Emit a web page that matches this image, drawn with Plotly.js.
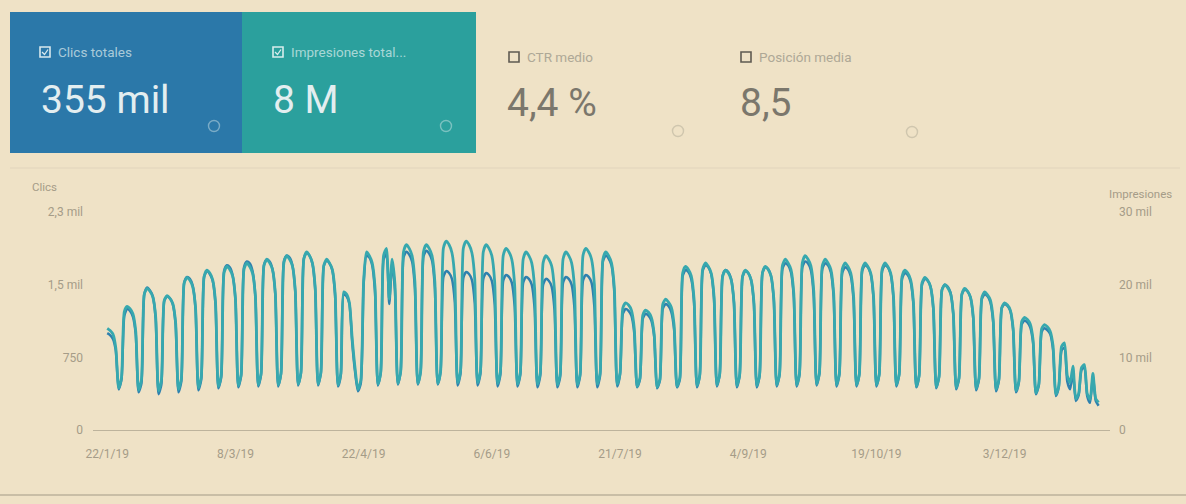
<!DOCTYPE html>
<html>
<head>
<meta charset="utf-8">
<script src="https://cdn.plot.ly/plotly-3.0.1.min.js"></script>
<style>
  html, body { margin: 0; padding: 0; background: #efe2c6; }
  #chart { width: 1186px; height: 504px; }
</style>
</head>
<body>
<div id="chart"></div>
<script>
// ---------- DATA ----------
const startDate = '2019-01-22';

// Daily clicks (first row Tue–Sun, then Mon–Sun weeks)
const clicks = [
  1000, 980, 940, 820, 420, 520,
  1180, 1250, 1230, 1170, 990, 390, 480,
  1400, 1470, 1440, 1380, 1150, 370, 470,
  1330, 1380, 1360, 1300, 1090, 390, 500,
  1520, 1580, 1560, 1490, 1250, 410, 520,
  1580, 1640, 1610, 1540, 1300, 430, 540,
  1640, 1700, 1680, 1600, 1350, 440, 560,
  1680, 1740, 1720, 1640, 1380, 450, 570,
  1700, 1760, 1740, 1660, 1400, 450, 580,
  1740, 1800, 1780, 1700, 1430, 460, 590,
  1770, 1830, 1800, 1720, 1450, 460, 590,
  1690, 1750, 1720, 1650, 1380, 450, 570,
  1400, 1380, 1300, 900, 600, 400, 480,
  1500, 1800, 1780, 1700, 1420, 460, 590,
  1760, 1820, 1300, 1720, 1440, 470, 600,
  1780, 1840, 1810, 1740, 1460, 470, 600,
  1790, 1850, 1820, 1750, 1470, 470, 600,
  1580, 1640, 1620, 1560, 1320, 460, 580,
  1570, 1630, 1610, 1550, 1310, 460, 580,
  1560, 1620, 1600, 1540, 1300, 450, 570,
  1540, 1600, 1580, 1520, 1280, 450, 570,
  1520, 1580, 1560, 1500, 1260, 440, 560,
  1500, 1560, 1540, 1480, 1240, 440, 550,
  1520, 1580, 1560, 1500, 1260, 440, 560,
  1540, 1600, 1580, 1520, 1270, 440, 560,
  1740, 1800, 1770, 1700, 1420, 450, 570,
  1200, 1250, 1230, 1180, 1000, 440, 520,
  1150, 1200, 1180, 1130, 960, 430, 510,
  1250, 1300, 1280, 1220, 1030, 440, 520,
  1590, 1650, 1630, 1560, 1310, 440, 560,
  1640, 1700, 1680, 1610, 1350, 450, 570,
  1590, 1650, 1630, 1560, 1310, 440, 560,
  1580, 1640, 1620, 1550, 1300, 440, 560,
  1620, 1680, 1660, 1590, 1330, 450, 570,
  1660, 1720, 1700, 1630, 1370, 450, 570,
  1680, 1740, 1720, 1650, 1380, 460, 580,
  1660, 1720, 1700, 1630, 1370, 450, 570,
  1620, 1680, 1660, 1590, 1330, 450, 570,
  1640, 1700, 1680, 1610, 1350, 450, 570,
  1640, 1700, 1680, 1610, 1350, 450, 570,
  1560, 1620, 1600, 1530, 1290, 440, 560,
  1500, 1560, 1540, 1480, 1240, 430, 550,
  1450, 1500, 1480, 1420, 1190, 420, 530,
  1400, 1450, 1430, 1370, 1150, 410, 520,
  1350, 1400, 1380, 1320, 1110, 400, 510,
  1260, 1300, 1280, 1230, 1030, 390, 490,
  1090, 1130, 1110, 1060, 900, 370, 460,
  1010, 1050, 1030, 990, 830, 350, 440,
  820, 850, 500, 420, 600, 300, 360,
  620, 650, 350, 280, 560, 300, 250
];

// Daily impressions
const impressions = [
  14000, 13700, 13200, 11300, 5800, 7200,
  16300, 17000, 16700, 16000, 13600, 5500, 6900,
  18700, 19500, 19100, 18300, 15600, 5400, 6800,
  17800, 18500, 18100, 17400, 14800, 5600, 7000,
  20200, 21000, 20600, 19700, 16800, 5800, 7300,
  21100, 22000, 21600, 20700, 17600, 6000, 7500,
  21600, 22500, 22100, 21200, 18000, 6100, 7600,
  22100, 23000, 22500, 21600, 18400, 6200, 7800,
  22600, 23500, 23000, 22100, 18800, 6200, 7800,
  23000, 24000, 23500, 22600, 19200, 6300, 7900,
  23500, 24500, 24000, 23000, 19600, 6300, 7900,
  22600, 23500, 23000, 22100, 18800, 6200, 7800,
  19000, 18700, 17500, 12500, 8500, 5600, 6800,
  20500, 24500, 24000, 23000, 19600, 6300, 7900,
  24000, 25000, 18000, 23500, 20000, 6400, 8000,
  24500, 25500, 25000, 24000, 20400, 6400, 8000,
  24500, 25500, 25000, 24000, 20400, 6400, 8000,
  25000, 26000, 25500, 24400, 20800, 6500, 8100,
  25000, 26000, 25500, 24400, 20800, 6500, 8100,
  24500, 25500, 25000, 24000, 20400, 6400, 8000,
  24000, 25000, 24500, 23500, 20000, 6300, 7900,
  23500, 24500, 24000, 23000, 19600, 6300, 7800,
  23000, 24000, 23500, 22600, 19200, 6200, 7700,
  23500, 24500, 24000, 23000, 19600, 6200, 7700,
  24000, 25000, 24500, 23500, 20000, 6300, 7800,
  23500, 24500, 24000, 23000, 19600, 6300, 7800,
  16800, 17500, 17200, 16500, 14000, 6000, 7200,
  15800, 16500, 16200, 15500, 13200, 5900, 7000,
  17300, 18000, 17600, 16900, 14400, 6000, 7200,
  21600, 22500, 22100, 21200, 18000, 6100, 7600,
  22100, 23000, 22500, 21600, 18400, 6200, 7700,
  21100, 22000, 21600, 20700, 17600, 6100, 7600,
  21100, 22000, 21600, 20700, 17600, 6100, 7600,
  21600, 22500, 22100, 21200, 18000, 6200, 7700,
  22600, 23500, 23000, 22100, 18800, 6200, 7800,
  23000, 24000, 23500, 22600, 19200, 6300, 7900,
  22600, 23500, 23000, 22100, 18800, 6200, 7800,
  22100, 23000, 22500, 21600, 18400, 6200, 7700,
  22100, 23000, 22500, 21600, 18400, 6200, 7700,
  22100, 23000, 22500, 21600, 18400, 6200, 7700,
  21100, 22000, 21600, 20700, 17600, 6000, 7500,
  20200, 21000, 20600, 19700, 16800, 5900, 7400,
  19200, 20000, 19600, 18800, 16000, 5800, 7200,
  18700, 19500, 19100, 18300, 15600, 5700, 7100,
  18200, 19000, 18600, 17900, 15200, 5600, 7000,
  16800, 17500, 17200, 16500, 14000, 5400, 6700,
  14900, 15500, 15200, 14600, 12400, 5100, 6300,
  13900, 14500, 14200, 13600, 11600, 4900, 6000,
  11500, 12000, 7500, 6500, 8800, 4300, 5000,
  8600, 9000, 5000, 4200, 7800, 4300, 3800
];

const xTickDates  = ['2019-01-22','2019-03-08','2019-04-22','2019-06-06','2019-07-21','2019-09-04','2019-10-19','2019-12-03'];
const xTickLabels = ['22/1/19','8/3/19','22/4/19','6/6/19','21/7/19','4/9/19','19/10/19','3/12/19'];
const yLeftTicks  = [0, 750, 1500, 2250];
const yLeftLabels = ['0', '750', '1,5 mil', '2,3 mil'];
const yRightTicks  = [0, 10000, 20000, 30000];
const yRightLabels = ['0', '10 mil', '20 mil', '30 mil'];

const cardLabels = ['Clics totales', 'Impresiones total...', 'CTR medio', 'Posición media'];
const cardValues = ['355 mil', '8 M', '4,4 %', '8,5'];

// ---------- BUILD ----------
const sd = new Date(startDate + 'T00:00:00Z');
const dates = clicks.map((_, i) => {
  const d = new Date(sd.getTime() + i * 86400000);
  return d.toISOString().slice(0, 10);
});

const W = 1186, H = 504;
const fx = p => p / W;
const fy = p => 1 - p / H;

const BG = '#efe2c6';
const TICK = '#a59c88';
const FONT = 'Roboto, Arial, sans-serif';

const traces = [
  {
    x: dates, y: impressions, yaxis: 'y2', type: 'scatter', mode: 'lines',
    line: { color: '#37a8ae', width: 2.8, shape: 'spline', smoothing: 0.6 },
    name: 'Impresiones', hoverinfo: 'skip'
  },
  {
    x: dates, y: clicks, type: 'scatter', mode: 'lines',
    line: { color: '#2f80ae', width: 2.5, shape: 'spline', smoothing: 0.6 },
    name: 'Clics', hoverinfo: 'skip'
  }
];

const shapes = [];
const annotations = [];

// cards
shapes.push({ type: 'rect', xref: 'paper', yref: 'paper', x0: fx(10), x1: fx(242), y0: fy(153), y1: fy(12), fillcolor: '#2b78a9', line: { width: 0 }, layer: 'below' });
shapes.push({ type: 'rect', xref: 'paper', yref: 'paper', x0: fx(242), x1: fx(476), y0: fy(153), y1: fy(12), fillcolor: '#2ba09d', line: { width: 0 }, layer: 'below' });

// card metric blocks
const cardX = [40, 273, 509, 741];
const valX  = [39, 271, 505, 738];
const infoX = [214, 446, 678, 912];
const infoY = [126, 126, 131, 132];
for (let i = 0; i < 4; i++) {
  const on = i < 2;
  const boxCol = on ? 'rgba(235,245,245,0.9)' : '#5f5b52';
  const by = on ? 52 : 57;
  shapes.push({ type: 'rect', xref: 'paper', yref: 'paper', x0: fx(cardX[i]), x1: fx(cardX[i] + 10), y0: fy(by + 5), y1: fy(by - 5), line: { color: boxCol, width: 1.6 } });
  if (on) {
    shapes.push({ type: 'path', xref: 'paper', yref: 'paper',
      path: `M ${fx(cardX[i] + 2)} ${fy(by)} L ${fx(cardX[i] + 4.5)} ${fy(by + 2.5)} L ${fx(cardX[i] + 8)} ${fy(by - 2.5)}`,
      line: { color: boxCol, width: 1.3 } });
  }
  annotations.push({ xref: 'paper', yref: 'paper', x: fx(cardX[i] + 16), y: fy(by), xanchor: 'left', yanchor: 'middle',
    text: cardLabels[i], showarrow: false,
    font: { family: FONT, size: 13.5, color: on ? 'rgba(225,240,240,0.7)' : '#aea896' } });
  annotations.push({ xref: 'paper', yref: 'paper', x: fx(valX[i]), y: fy(on ? 100 : 103), xanchor: 'left', yanchor: 'middle',
    text: cardValues[i], showarrow: false,
    font: { family: FONT, size: 39, color: on ? '#e3eef0' : '#7b776c' } });
  shapes.push({ type: 'circle', xref: 'paper', yref: 'paper',
    x0: fx(infoX[i] - 5.5), x1: fx(infoX[i] + 5.5), y0: fy(infoY[i] + 5.5), y1: fy(infoY[i] - 5.5),
    line: { color: on ? 'rgba(220,235,235,0.45)' : 'rgba(150,145,130,0.35)', width: 1.4 } });
}

// separators
shapes.push({ type: 'line', xref: 'paper', yref: 'paper', x0: 0, x1: 1, y0: fy(495), y1: fy(495), line: { color: '#bcb29b', width: 1.5 } });
shapes.push({ type: 'line', xref: 'paper', yref: 'paper', x0: fx(10), x1: fx(1180), y0: fy(168), y1: fy(168), line: { color: 'rgba(205,195,175,0.4)', width: 1 } });

// axis captions
annotations.push({ xref: 'paper', yref: 'paper', x: fx(30), y: fy(187), xanchor: 'left', yanchor: 'middle', text: 'Clics', showarrow: false, font: { family: FONT, size: 11.5, color: TICK } });
annotations.push({ xref: 'paper', yref: 'paper', x: fx(1174), y: fy(194), xanchor: 'right', yanchor: 'middle', text: 'Impresiones', showarrow: false, font: { family: FONT, size: 11.5, color: TICK } });

const layout = {
  width: W, height: H,
  paper_bgcolor: BG, plot_bgcolor: 'rgba(0,0,0,0)',
  margin: { l: 0, r: 0, t: 0, b: 0 },
  showlegend: false,
  font: { family: FONT, color: TICK },
  xaxis: {
    type: 'date',
    domain: [fx(93), fx(1110)],
    range: ['2019-01-17', '2020-01-09'],
    tickvals: xTickDates, ticktext: xTickLabels,
    tickfont: { family: FONT, size: 12, color: TICK },
    showgrid: false, zeroline: false,
    showline: true, linecolor: '#bdb39c', linewidth: 1.2,
    ticks: '', ticklabelstandoff: 12, fixedrange: true
  },
  yaxis: {
    domain: [fy(430), fy(212)],
    range: [0, 2250],
    tickvals: yLeftTicks, ticktext: yLeftLabels,
    tickfont: { family: FONT, size: 12, color: TICK },
    showgrid: false, zeroline: false, showline: false,
    ticks: '', ticklabelstandoff: 9
  },
  yaxis2: {
    overlaying: 'y', side: 'right', anchor: 'x',
    range: [0, 30000],
    tickvals: yRightTicks, ticktext: yRightLabels,
    tickfont: { family: FONT, size: 12, color: TICK },
    showgrid: false, zeroline: false, showline: false,
    ticks: '', ticklabelstandoff: 8
  },
  shapes: shapes,
  annotations: annotations
};

Plotly.newPlot('chart', traces, layout, { staticPlot: true, displayModeBar: false });
</script>
</body>
</html>
